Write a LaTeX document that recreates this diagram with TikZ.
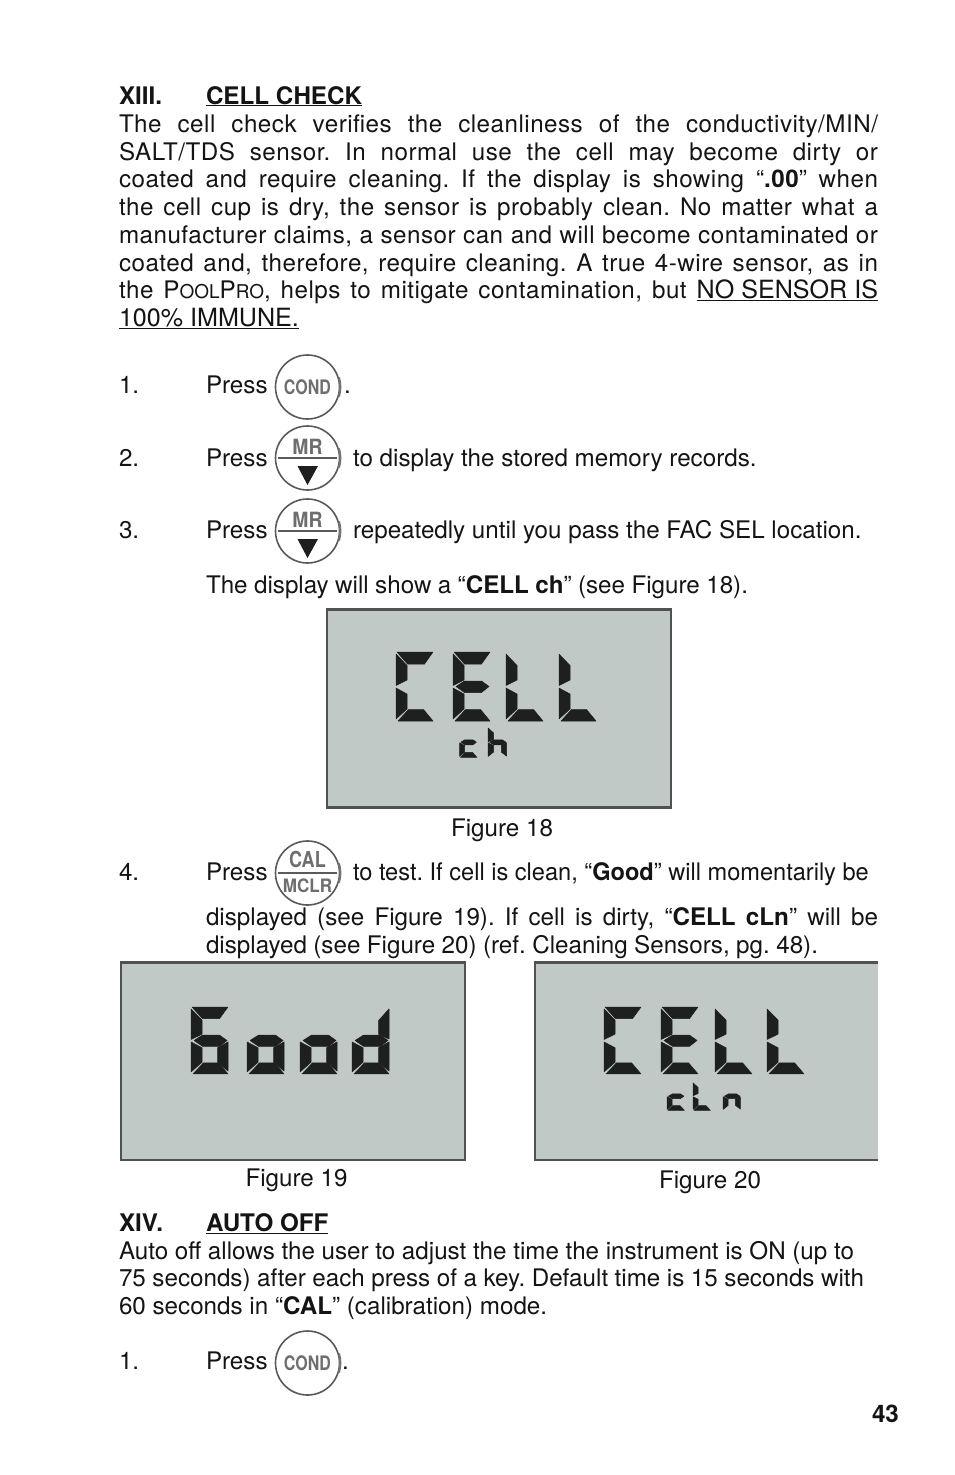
\documentclass[tikz,border=0pt]{standalone}
\usepackage{fontspec}
\setmainfont{TeX Gyre Heros}
\frenchspacing
\definecolor{lcdbg}{HTML}{C1C9C6}
\definecolor{lcdline}{HTML}{505251}
\definecolor{lcdseg}{HTML}{1E1F1F}
\definecolor{btn}{HTML}{5A5A5A}
\definecolor{btntext}{HTML}{6E6E6E}
\newcommand\bodysize{\fontsize{24.2}{27.7}\selectfont}
\newcommand\capsize{\fontsize{25.1}{27.7}\selectfont}
\newcommand\parafont{\addfontfeature{LetterSpace=2}}
\newcommand\jline[1]{\makebox[759pt][s]{\parafont #1}}
\tikzset{
  txt/.style={anchor=base west,inner sep=0pt,outer sep=0pt,font=\bodysize,text=black!92},
  lcdpanel/.style={fill=lcdbg,draw=none},
  lcdedge/.style={draw=lcdline,line width=2.4pt},
  btnring/.style={draw=btn,line width=1.6pt,fill=white},
  btnlabel/.style n args={2}{inner sep=0pt,text=btntext,font=\fontsize{#1}{#1}\selectfont\bfseries,xscale=#2,transform shape},
  btnbar/.style={draw=btn,line width=#1,shorten <=3pt,shorten >=3pt},
  btnbar/.default=1.6pt,
  segfill/.style={fill=lcdseg,draw=lcdseg,line width=.5pt,line join=round}
}
% segments of one digit, in a 37 x 69 cell
\newcommand\segA{\path[segfill] (1,0)--(37,0)--(28.5,12)--(11.5,12)--cycle;}
\newcommand\segB{\path[segfill] (37,2)--(37,33)--(26.5,28)--(26.5,14)--cycle;}
\newcommand\segC{\path[segfill] (37,36)--(37,66)--(26.5,57)--(26.5,42)--cycle;}
\newcommand\segD{\path[segfill] (2,69)--(12.5,57.5)--(27.5,57.5)--(37,69)--cycle;}
\newcommand\segE{\path[segfill] (0,36)--(11,42)--(11,57)--(0,67)--cycle;}
\newcommand\segF{\path[segfill] (0,2)--(11,13.5)--(11,28)--(0,33.5)--cycle;}
\newcommand\segG{\path[segfill] (3,34.5)--(11.5,29)--(28.5,29)--(36,34.5)--(28.5,40.5)--(11.5,40.5)--cycle;}
\newcommand\lcddigit[5]{\begin{scope}[shift={(#1,#2)},xscale=#3,yscale=#4]
  \foreach \s in {#5}{\csname seg\s\endcsname}\end{scope}}
% button ring with the darker shade on its right
\newcommand\btnring[3]{%
  \node[circle,btnring,minimum size=64pt,inner sep=0pt] (#1) at (#2,#3) {};
  \draw[btn!85,line width=2.2pt] (#1.center) ++(-17:32.8) arc[start angle=-17,end angle=17,radius=32.8];
}
\begin{document}
\begin{tikzpicture}[x=1pt,y=-1pt]
\useasboundingbox (0,0) rectangle (954,1475);
\fill[white] (0,0) rectangle (954,1475);
% XIII
\node[txt] (h1n) at (119,104) {\bfseries XIII.};
\node[txt] (h1t) at (206,104) {\bfseries\underline{CELL CHECK}};
\node[txt] (p1) at (119,132) {\jline{The cell check verifies the cleanliness of the conductivity/MIN/}};
\node[txt] (p2) at (119,160) {\jline{SALT/TDS sensor. In normal use the cell may become dirty or}};
\node[txt] (p3) at (119,187) {\jline{coated and require cleaning. If the display is showing “{\bfseries .00}” when}};
\node[txt] (p4) at (119,215) {\jline{the cell cup is dry, the sensor is probably clean. No matter what a}};
\node[txt] (p5) at (119,243) {\jline{manufacturer claims, a sensor can and will become contaminated or}};
\node[txt] (p6) at (119,271) {\jline{coated and, therefore, require cleaning. A true 4-wire sensor, as in}};
\node[txt] (p7) at (119,298) {\makebox[759pt][s]{{\parafont the P}{\fontsize{19}{20}\selectfont OOL}P{\fontsize{19}{20}\selectfont RO}{\parafont , helps to mitigate contamination, but }{\capsize\underline{NO SENSOR IS}}}};
\node[txt] (p8) at (119,326) {\capsize\underline{100\% IMMUNE.}};
% step 1
\node[txt] (s1n) at (119,393) {1.};
\node[txt] (s1p) at (206,393) {Press};
\btnring{b1}{307.5}{387}
\node[btnlabel={20}{.8}] (b1t) at (b1.center) {COND};
\node[txt] (s1e) at (344,393) {.};
% step 2
\node[txt] (s2n) at (119,466) {2.};
\node[txt] (s2p) at (206,466) {Press};
\btnring{b2}{307.5}{458}
\node[btnlabel={21}{.92}] (b2t) at (307.5,446.5) {MR};
\draw[btnbar] (b2.west) -- (b2.east);
\fill[lcdseg] (297.5,466)--(318,466)--(307.5,485)--cycle;
\node[txt] (s2t) at (353,466) {to display the stored memory records.};
% step 3
\node[txt] (s3n) at (119,538) {3.};
\node[txt] (s3p) at (206,538) {Press};
\btnring{b3}{307.5}{531}
\node[btnlabel={21}{.92}] (b3t) at (307.5,519.5) {MR};
\draw[btnbar] (b3.west) -- (b3.east);
\fill[lcdseg] (297.5,539)--(318,539)--(307.5,558)--cycle;
\node[txt] (s3t) at (353,538) {repeatedly until you pass the FAC SEL location.};
\node[txt] (s3b) at (206,593) {\makebox[542pt][s]{The display will show a “{\bfseries CELL ch}” (see Figure 18).}};
% figure 18
\fill[lcdpanel] (326,608.5) rectangle (671,808);
\draw[lcdedge] (327,609.5) rectangle (671,807.5);
\lcddigit{396}{652}{1}{1}{A,F,E,D}
\lcddigit{453}{652}{1}{1}{A,F,E,D,G}
\lcddigit{506}{652}{1}{1}{F,E,D}
\lcddigit{559}{652}{1}{1}{F,E,D}
\lcddigit{459.5}{727}{0.47}{0.44}{G,E,D}
\lcddigit{488}{727}{0.5}{0.44}{F,E,G,C}
\node[txt] (f18) at (451,836) {Figure 18};
% step 4
\node[txt] (s4n) at (119,880) {4.};
\node[txt] (s4p) at (206,880) {Press};
\btnring{b4}{307.5}{873}
\node[btnlabel={22}{.82}] (b4t) at (307.5,859) {CAL};
\draw[btnbar=2pt] (b4.west) -- (b4.east);
\node[btnlabel={18.5}{.92}] (b4u) at (307.5,885.5) {MCLR};
\node[txt,xscale=.975,transform shape] (s4t) at (353,880) {to test. If cell is clean, “{\bfseries Good}” will momentarily be};
\node[txt] (s4c) at (206,925) {\makebox[672pt][s]{displayed (see Figure 19). If cell is dirty, “{\bfseries CELL cLn}” will be}};
\node[txt] (s4d) at (206,953) {\makebox[612pt][s]{displayed (see Figure 20) (ref. Cleaning Sensors, pg. 48).}};
% figure 19
\fill[lcdpanel] (120,961.5) rectangle (465.5,1160.5);
\draw[lcdedge] (121,962.5) rectangle (465,1160);
\lcddigit{191}{1007}{1}{0.97}{A,F,G,E,C,D}
\lcddigit{247}{1007}{1}{0.97}{G,E,C,D}
\lcddigit{300}{1007}{1}{0.97}{G,E,C,D}
\lcddigit{352}{1007}{1}{0.97}{B,G,E,C,D}
\node[txt] (f19) at (245.5,1186) {Figure 19};
% figure 20
\fill[lcdpanel] (534,961.5) rectangle (878,1160.5);
\draw[lcdedge] (878,962.5) -- (535,962.5) -- (535,1160) -- (878,1160);
\lcddigit{604}{1007}{1}{0.97}{A,F,E,D}
\lcddigit{661}{1007}{1}{0.97}{A,F,E,D,G}
\lcddigit{715}{1007}{1}{0.97}{F,E,D}
\lcddigit{767}{1007}{1}{0.97}{F,E,D}
\lcddigit{667}{1082}{0.47}{0.41}{G,E,D}
\lcddigit{693}{1082}{0.47}{0.41}{F,E,D}
\lcddigit{723}{1082}{0.47}{0.41}{G,E,C}
\node[txt] (f20) at (659,1188) {Figure 20};
% XIV
\node[txt] (h2n) at (119,1231) {\bfseries XIV.};
\node[txt] (h2t) at (206,1231) {\bfseries\underline{AUTO OFF}};
\node[txt] (q1) at (119,1259) {\makebox[735pt][s]{Auto off allows the user to adjust the time the instrument is ON (up to}};
\node[txt] (q2) at (119,1286) {\makebox[745pt][s]{75 seconds) after each press of a key. Default time is 15 seconds with}};
\node[txt] (q3) at (119,1314) {60 seconds in “{\bfseries CAL}” (calibration) mode.};
\node[txt] (t1n) at (119,1369) {1.};
\node[txt] (t1p) at (206,1369) {Press};
\btnring{b5}{307.5}{1363}
\node[btnlabel={20}{.8}] (b5t) at (b5.center) {COND};
\node[txt] (t1e) at (342,1369) {.};
\node[txt] (pg) at (872,1422) {\bfseries 43};
\end{tikzpicture}
\end{document}
